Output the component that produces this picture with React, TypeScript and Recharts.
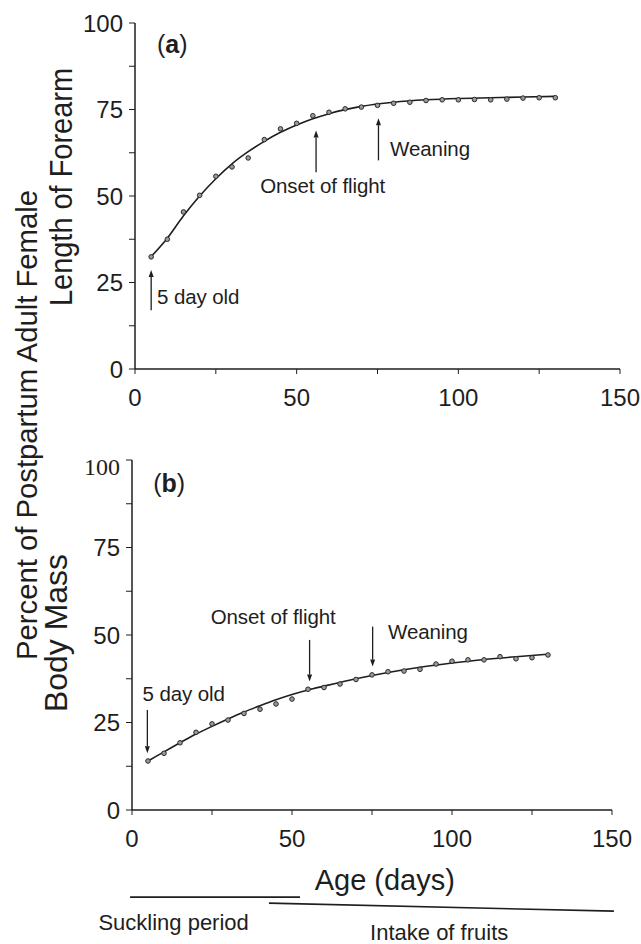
import React from 'react';
import { ComposedChart, Line, Scatter, XAxis, YAxis, ReferenceLine, ReferenceDot } from 'recharts';

const FONT = '"Liberation Sans", Arial, Helvetica, sans-serif';
const SERIF = '"Liberation Serif", "Times New Roman", serif';
const INK = '#1e1e1e';

// Observed ages (days)
const days = [5, 10, 15, 20, 25, 30, 35, 40, 45, 50, 55, 60, 65, 70, 75, 80, 85, 90, 95, 100, 105, 110, 115, 120, 125, 130];
// (a) forearm length, % of adult female
const forearmPct = [32.4, 37.5, 45.4, 50.2, 55.7, 58.4, 61.0, 66.3, 69.4, 71.0, 73.2, 74.2, 75.2, 75.7, 76.2, 76.8, 77.1, 77.6, 77.8, 77.8, 77.9, 77.8, 78.0, 78.3, 78.4, 78.4];
// (b) body mass, % of adult female
const massPct = [14.0, 16.2, 19.2, 22.2, 24.6, 25.7, 27.6, 28.8, 30.3, 31.7, 34.5, 35.0, 36.0, 37.3, 38.6, 39.5, 39.7, 40.2, 41.7, 42.5, 42.9, 42.9, 43.8, 43.2, 43.5, 44.3];

// Fitted growth curves
const fitDays = [5, 10, 15, 20, 25, 30, 35, 40, 45, 50, 55, 60, 70, 80, 90, 100, 110, 120, 130];
const forearmFit = [32.5, 37.8, 44.3, 50.0, 55.0, 59.3, 62.8, 65.8, 68.4, 70.5, 72.3, 73.8, 75.9, 77.1, 77.8, 78.2, 78.4, 78.6, 78.8];
const massFit = [14.0, 16.6, 19.2, 21.7, 23.9, 26.0, 28.0, 29.8, 31.5, 33.0, 34.3, 35.4, 37.5, 39.3, 40.8, 42.0, 43.0, 43.8, 44.5];

const yTicks = [0, 12.5, 25, 37.5, 50, 62.5, 75, 87.5, 100];
const xTicks = [0, 25, 50, 75, 100, 125, 150];

const annotA = [
  { text: '5 day old', tx: 6.8, ty: 20.8, ax: 5, from: 17, to: 28.6 },
  { text: 'Onset of flight', tx: 38.7, ty: 53, ax: 56, from: 56.9, to: 68.9 },
  { text: 'Weaning', tx: 78.9, ty: 63.7, ax: 75.3, from: 60.3, to: 72.5 },
];
const annotB = [
  { text: '5 day old', tx: 3.3, ty: 33.3, ax: 4.8, from: 28.6, to: 16.2 },
  { text: 'Onset of flight', tx: 24.6, ty: 55.2, ax: 55.5, from: 48.6, to: 36.7 },
  { text: 'Weaning', tx: 80, ty: 51, ax: 75.2, from: 52.4, to: 41 },
];
const periods = [
  { text: 'Suckling period', start: -0.6, end: 52.5, yStart: -24.9, yEnd: -24.9, labelDay: 13, labelY: -32.0 },
  { text: 'Intake of fruits', start: 42.8, end: 150.6, yStart: -26.6, yEnd: -28.9, labelDay: 96, labelY: -34.9 },
];

const obsA = days.map((d, i) => ({ day: d, value: forearmPct[i] }));
const obsB = days.map((d, i) => ({ day: d, value: massPct[i] }));
const fitA = fitDays.map((d, i) => ({ day: d, value: forearmFit[i] }));
const fitB = fitDays.map((d, i) => ({ day: d, value: massFit[i] }));

const dotShape = (p: any) => (
  <circle cx={p.cx} cy={p.cy} r={2.3} fill="#9a9a9a" stroke="#2a2a2a" strokeWidth={1} />
);

const arrowShape = (p: any) => {
  const { x1, y1, x2, y2 } = p;
  const dir = y2 < y1 ? -1 : 1;
  const hl = 7;
  return (
    <g>
      <line x1={x1} y1={y1} x2={x2} y2={y2 - dir * hl} stroke={INK} strokeWidth={1.3} />
      <polygon points={`${x2},${y2} ${x2 - 2.5},${y2 - dir * hl} ${x2 + 2.5},${y2 - dir * hl}`} fill={INK} />
    </g>
  );
};

const textShape = (text: string, size: number, anchor: string, spacing = -0.1) => (p: any) => (
  <text x={p.cx} y={p.cy} dy="0.35em" textAnchor={anchor} fontSize={size} fontFamily={FONT} fill={INK} letterSpacing={spacing}>
    {text}
  </text>
);

const panelLetter = (letter: string) => (p: any) => (
  <text x={p.cx} y={p.cy} dy="0.35em" textAnchor="middle" fontSize={25} fontFamily={FONT} fill={INK}>
    (<tspan fontWeight="bold">{letter}</tspan>)
  </text>
);

const yFmt = (v: number) => (v % 25 === 0 ? String(v) : '');
const xFmt = (v: number) => (v % 50 === 0 ? String(v) : '');

const yTickB = (p: any) => {
  const v = p.payload.value;
  if (v % 25 !== 0) return <g />;
  const serif = v === 100;
  return (
    <text x={p.x} y={p.y + (serif ? 6 : 0)} dy="0.355em" textAnchor="end" fontSize={24}
      fontFamily={serif ? SERIF : FONT} fill={INK}>
      {v}
    </text>
  );
};

const axisProps = { stroke: INK, strokeWidth: 1.5 };

export default function App() {
  return (
    <div style={{ position: 'absolute', left: 0, top: 0, width: 641, height: 944, background: '#fff', overflow: 'hidden' }}>
      <div style={{ position: 'absolute', left: 0, top: 0 }}>
        <ComposedChart width={641} height={420} margin={{ top: 23, left: 75, right: 21, bottom: 11 }}>
          <XAxis type="number" dataKey="day" domain={[0, 150]} ticks={xTicks} tickFormatter={xFmt}
            axisLine={axisProps} tickLine={{ stroke: INK }} tickSize={5} tickMargin={15} height={40}
            tick={{ fontSize: 24, fontFamily: FONT, fill: INK }} allowDataOverflow />
          <YAxis type="number" domain={[0, 100]} ticks={yTicks} tickFormatter={yFmt} width={60}
            axisLine={axisProps} tickLine={{ stroke: INK }} tickSize={6} tickMargin={6}
            tick={{ fontSize: 24, fontFamily: FONT, fill: INK }} allowDataOverflow />
          <Line data={fitA} dataKey="value" type="monotone" stroke={INK} strokeWidth={1.6} dot={false} isAnimationActive={false} />
          <Scatter data={obsA} dataKey="value" shape={dotShape} isAnimationActive={false} />
          {annotA.map((a) => (
            <ReferenceLine key={'al' + a.text} segment={[{ x: a.ax, y: a.from }, { x: a.ax, y: a.to }]} shape={arrowShape} ifOverflow="visible" />
          ))}
          {annotA.map((a) => (
            <ReferenceDot key={'at' + a.text} x={a.tx} y={a.ty} r={0} shape={textShape(a.text, 20.5, 'start')} ifOverflow="visible" />
          ))}
          <ReferenceDot x={11.5} y={94} r={0} shape={panelLetter('a')} ifOverflow="visible" />
        </ComposedChart>
      </div>
      <div style={{ position: 'absolute', left: 0, top: 420 }}>
        <ComposedChart width={641} height={524} margin={{ top: 40, left: 72, right: 29, bottom: 94 }}>
          <XAxis type="number" dataKey="day" domain={[0, 150]} ticks={xTicks} tickFormatter={xFmt}
            axisLine={axisProps} tickLine={{ stroke: INK }} tickSize={5} tickMargin={15} height={40}
            tick={{ fontSize: 24, fontFamily: FONT, fill: INK }} allowDataOverflow />
          <YAxis type="number" domain={[0, 100]} ticks={yTicks} width={60}
            axisLine={axisProps} tickLine={{ stroke: INK }} tickSize={6} tickMargin={6}
            tick={yTickB} allowDataOverflow />
          <Line data={fitB} dataKey="value" type="monotone" stroke={INK} strokeWidth={1.6} dot={false} isAnimationActive={false} />
          <Scatter data={obsB} dataKey="value" shape={dotShape} isAnimationActive={false} />
          {annotB.map((a) => (
            <ReferenceLine key={'bl' + a.text} segment={[{ x: a.ax, y: a.from }, { x: a.ax, y: a.to }]} shape={arrowShape} ifOverflow="visible" />
          ))}
          {annotB.map((a) => (
            <ReferenceDot key={'bt' + a.text} x={a.tx} y={a.ty} r={0} shape={textShape(a.text, 20.5, 'start')} ifOverflow="visible" />
          ))}
          <ReferenceDot x={11.6} y={93.4} r={0} shape={panelLetter('b')} ifOverflow="visible" />
          <ReferenceDot x={79} y={-20} r={0} shape={textShape('Age (days)', 29, 'middle', 0)} ifOverflow="visible" />
          {periods.map((p) => (
            <ReferenceLine key={'pl' + p.text} segment={[{ x: p.start, y: p.yStart }, { x: p.end, y: p.yEnd }]}
              stroke={INK} strokeWidth={1.6} ifOverflow="visible" />
          ))}
          {periods.map((p) => (
            <ReferenceDot key={'pt' + p.text} x={p.labelDay} y={p.labelY} r={0} shape={textShape(p.text, 22, 'middle', 0)} ifOverflow="visible" />
          ))}
        </ComposedChart>
      </div>
      <svg width={641} height={944} style={{ position: 'absolute', left: 0, top: 0, pointerEvents: 'none' }}>
        <text transform="translate(37,425) rotate(-90)" textAnchor="middle" fontSize={29} fontFamily={FONT} fill={INK}
          textLength={470} lengthAdjust="spacingAndGlyphs">
          Percent of Postpartum Adult Female
        </text>
        <text transform="translate(72,187) rotate(-90)" textAnchor="middle" fontSize={32} fontFamily={FONT} fill={INK}
          textLength={238} lengthAdjust="spacingAndGlyphs">
          Length of Forearm
        </text>
        <text transform="translate(67,633) rotate(-90)" textAnchor="middle" fontSize={32} fontFamily={FONT} fill={INK}
          textLength={158} lengthAdjust="spacingAndGlyphs">
          Body Mass
        </text>
      </svg>
    </div>
  );
}
